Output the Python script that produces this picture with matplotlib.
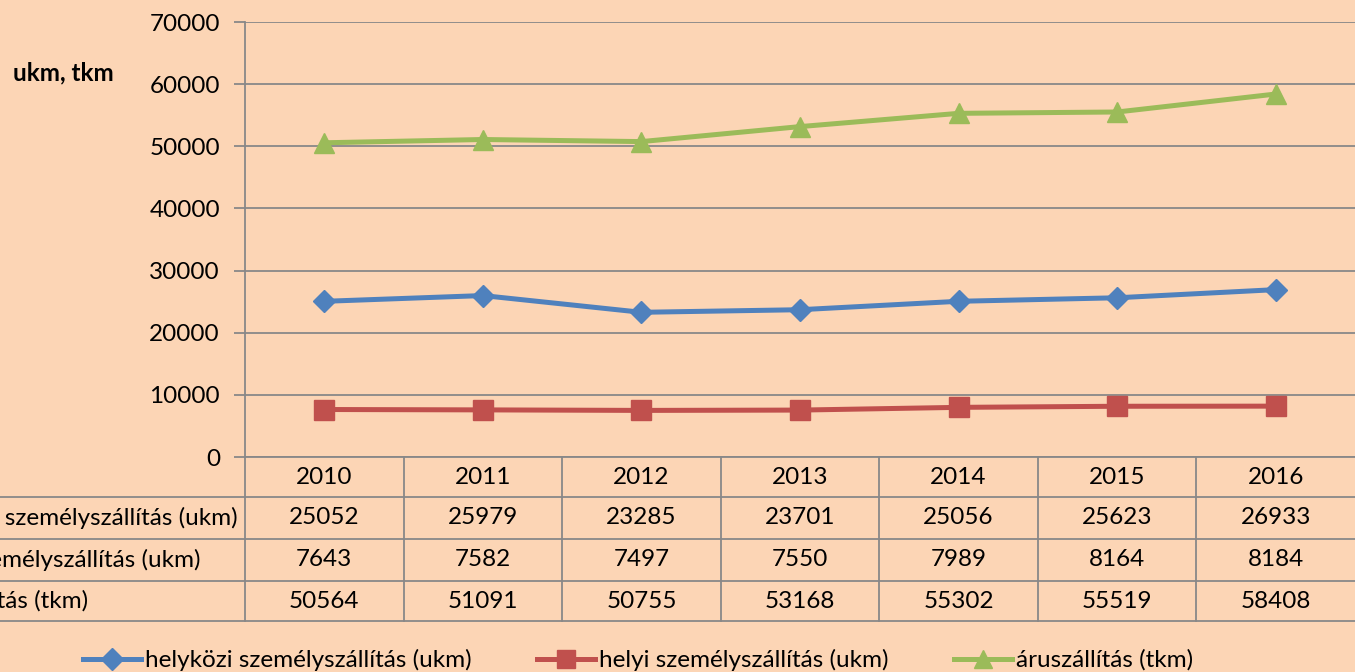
import matplotlib.pyplot as plt
from matplotlib.lines import Line2D

evek = ['2010', '2011', '2012', '2013', '2014', '2015', '2016']
helykozi = [25052, 25979, 23285, 23701, 25056, 25623, 26933]
helyi = [7643, 7582, 7497, 7550, 7989, 8164, 8184]
aru = [50564, 51091, 50755, 53168, 55302, 55519, 58408]
nevek = ['helyközi személyszállítás (ukm)', 'helyi személyszállítás (ukm)', 'áruszállítás (tkm)']
szinek = ['#4F81BD', '#C0504D', '#9BBB59']
jelek = ['D', 's', '^']

hatter = '#FCD5B5'
racs = '#888888'
W, H = 1355, 672

plt.rcParams['font.family'] = ['Lato', 'DejaVu Sans']
meret = 17.5

fig = plt.figure(figsize=(W / 100, H / 100), dpi=100, facecolor=hatter)
ax = fig.add_axes([245 / W, (H - 457) / H, 1110 / W, 435 / H])
ax.set_facecolor(hatter)

x = [i + 0.5 for i in range(len(evek))]
sorok = [helykozi, helyi, aru]
for adat, nev, szin, jel in zip(sorok, nevek, szinek, jelek):
    ax.plot(x, adat, color=szin, lw=3.6, marker=jel, ms=14 if jel != 'D' else 11.5,
            mec=szin, mfc=szin, label=nev, clip_on=False, zorder=3)

ax.set_xlim(0, len(evek))
ax.set_ylim(0, 70000)
ax.set_yticks(range(0, 70001, 10000))
ax.set_yticklabels([str(v) for v in range(0, 70001, 10000)], fontsize=meret)
ax.set_xticks([])
ax.grid(axis='y', color=racs, lw=1.3)
ax.set_axisbelow(True)
for s in ['top', 'right']:
    ax.spines[s].set_visible(False)
for s in ['left', 'bottom']:
    ax.spines[s].set_color(racs)
    ax.spines[s].set_linewidth(1.3)
ax.tick_params(axis='y', length=8, width=1.3, color=racs, pad=10)

fig.text(63 / W, 1 - 73 / H, 'ukm, tkm', fontsize=meret, fontweight='bold', ha='center', va='center')

# adattabla
def ay(py):
    return (457 - py) / 435

def ax_(px):
    return (px - 245) / 1110

sor_hatar = [457, 497, 539, 581, 621]
kw = dict(transform=ax.transAxes, color=racs, lw=1.3, clip_on=False)
ax.add_line(Line2D([0, 0], [ay(457), ay(621)], **kw))
for i in range(1, len(evek)):
    ax.add_line(Line2D([i / len(evek)] * 2, [ay(457), ay(621)], **kw))
for py in sor_hatar[1:]:
    ax.add_line(Line2D([ax_(0), 1], [ay(py), ay(py)], **kw))

for i, ev in enumerate(evek):
    ax.text(x[i], ay(477), ev, transform=ax.get_xaxis_transform(), ha='center', va='center',
            fontsize=meret, clip_on=False)
for r, adat in enumerate(sorok):
    py = (sor_hatar[r + 1] + sor_hatar[r + 2]) / 2
    for i, v in enumerate(adat):
        ax.text(x[i], ay(py), str(v), transform=ax.get_xaxis_transform(), ha='center', va='center',
                fontsize=meret, clip_on=False)

# sorcimkek balra igazitva, a leghosszabb vege 238 px-nel
fig.canvas.draw()
rend = fig.canvas.get_renderer()
t0 = fig.text(0, 0, nevek[0], fontsize=meret)
szel = t0.get_window_extent(rend).width
t0.remove()
bal = 238 - szel
for r, nev in enumerate(nevek):
    py = (sor_hatar[r + 1] + sor_hatar[r + 2]) / 2
    fig.text(bal / W, 1 - py / H, nev, fontsize=meret, ha='left', va='center')

kezek = [Line2D([], [], color=c, lw=3.6, marker=m, ms=13 if m != 'D' else 11, mec=c, mfc=c)
         for c, m in zip(szinek, jelek)]
fig.legend(kezek, nevek, loc='center', bbox_to_anchor=(638 / W, 1 - 660 / H), ncol=3, frameon=False,
           fontsize=meret, handlelength=2.4, handletextpad=0.15, columnspacing=2.7)

fig.savefig('out.png', dpi=100, facecolor=hatter)
